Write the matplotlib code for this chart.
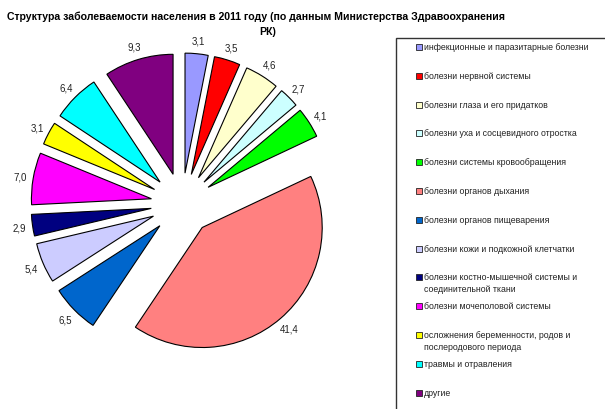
import matplotlib
matplotlib.use("Agg")
import matplotlib.pyplot as plt
from matplotlib.patches import Rectangle

plt.rcParams['font.family'] = ['Liberation Sans', 'DejaVu Sans']

# data
categories = [
    "инфекционные и паразитарные болезни",
    "болезни нервной системы",
    "болезни глаза и его придатков",
    "болезни уха и сосцевидного отростка",
    "болезни системы кровообращения",
    "болезни органов дыхания",
    "болезни органов пищеварения",
    "болезни кожи и подкожной клетчатки",
    "болезни костно-мышечной системы и\nсоединительной ткани",
    "болезни мочеполовой системы",
    "осложнения беременности, родов и\nпослеродового периода",
    "травмы и отравления",
    "другие",
]
values = [3.1, 3.5, 4.6, 2.7, 4.1, 41.4, 6.5, 5.4, 2.9, 7.0, 3.1, 6.4, 9.3]
colors = ["#9999FF", "#FF0000", "#FFFFCC", "#CCFFFF", "#00FF00", "#FF8080",
          "#0066CC", "#CCCCFF", "#000080", "#FF00FF", "#FFFF00", "#00FFFF",
          "#800080"]
value_labels = [f"{v:.1f}".replace(".", ",") for v in values]

W, H = 605, 410


def Y(p):
    # pixel row (from top) -> data y
    return H - p


fig = plt.figure(figsize=(W / 100, H / 100), dpi=100)
ax = fig.add_axes([0, 0, 1, 1])

# explode is in data units here (pixels)
wedges, texts = ax.pie(values, labels=value_labels, colors=colors,
                       startangle=90, counterclock=False,
                       explode=[31] * len(values),
                       center=(182, Y(205)), radius=120,
                       labeldistance=1.11,
                       wedgeprops=dict(edgecolor="black", linewidth=0.8),
                       textprops=dict(fontsize=7, color="#222222"))
for t in texts:
    t.set_horizontalalignment("center")
    t.set_verticalalignment("center")

ax.set_xlim(0, W)
ax.set_ylim(0, H)
ax.set_aspect("equal")
ax.axis("off")

# title
ax.text(256, Y(17), "Структура заболеваемости населения в 2011 году (по данным Министерства Здравоохранения",
        ha="center", va="center", fontsize=7.6, fontweight="bold")
ax.text(268, Y(32), "РК)", ha="center", va="center", fontsize=7.6, fontweight="bold")

# legend box (runs off the right and bottom edge)
ax.add_patch(Rectangle((396, Y(420)), 230, 420 - 39, facecolor="white",
                       edgecolor="#333333", linewidth=1.0, clip_on=False))
for i, (lab, c) in enumerate(zip(categories, colors)):
    yp = 48 + i * 28.8
    ax.add_patch(Rectangle((416, Y(yp + 3)), 6, 6, facecolor=c,
                           edgecolor="#222222", linewidth=0.6))
    ax.text(424, Y(yp - 5), lab, ha="left", va="top", fontsize=6.3,
            color="#222222", linespacing=1.4)

fig.savefig("out.png", dpi=100)
